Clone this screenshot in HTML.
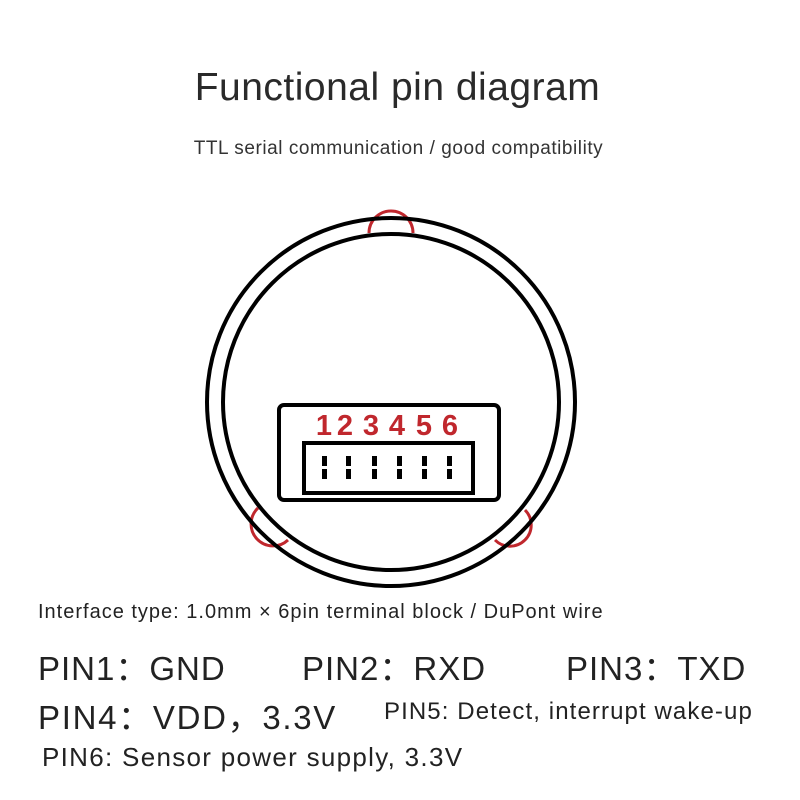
<!DOCTYPE html>
<html><head><meta charset="utf-8"><style>
body{margin:0;width:800px;height:800px;background:#fff;overflow:hidden;position:relative;font-family:"Liberation Sans","Noto Sans CJK SC",sans-serif;color:#222}
.t{position:absolute;white-space:nowrap}
</style></head><body>
<div class="t" style="left:0;width:795px;text-align:center;top:66px;font-size:39px;letter-spacing:0.5px;color:#2a2a2a">Functional pin diagram</div>
<div class="t" style="left:0;width:797px;text-align:center;top:138px;font-size:19px;letter-spacing:0.55px;color:#333">TTL serial communication / good compatibility</div>
<svg width="800" height="800" style="position:absolute;left:0;top:0">
<g fill="none" stroke="#c0272d" stroke-width="3">
<path d="M369,233 A22,22 0 0 1 413,233"/>
<path d="M258,508 A20,20 0 0 0 288,540"/>
<path d="M525,510 A20,20 0 0 1 495,540"/>
</g>
<circle cx="391" cy="402" r="184" fill="none" stroke="#000" stroke-width="4"/>
<circle cx="391" cy="402" r="168" fill="none" stroke="#000" stroke-width="4"/>
<rect x="279" y="405" width="220" height="95" rx="5" fill="#fff" stroke="#000" stroke-width="4"/>
<rect x="304" y="443" width="169" height="50" fill="none" stroke="#000" stroke-width="4"/>
<g fill="#000">
<rect x="322" y="456" width="5" height="10"/><rect x="322" y="469" width="5" height="10"/>
<rect x="346" y="456" width="5" height="10"/><rect x="346" y="469" width="5" height="10"/>
<rect x="372" y="456" width="5" height="10"/><rect x="372" y="469" width="5" height="10"/>
<rect x="397" y="456" width="5" height="10"/><rect x="397" y="469" width="5" height="10"/>
<rect x="422" y="456" width="5" height="10"/><rect x="422" y="469" width="5" height="10"/>
<rect x="447" y="456" width="5" height="10"/><rect x="447" y="469" width="5" height="10"/>
</g>
<g fill="#c0272d" font-family="Liberation Sans" font-weight="bold" font-size="29" text-anchor="middle">
<text x="324" y="435">1</text><text x="345" y="435">2</text><text x="371" y="435">3</text><text x="397" y="435">4</text><text x="424" y="435">5</text><text x="450" y="435">6</text>
</g>
</svg>
<div class="t" style="left:38px;top:601px;font-size:20px;letter-spacing:1px">Interface type: 1.0mm × 6pin terminal block / DuPont wire</div>
<div class="t" style="left:38px;top:642px;font-size:33px;letter-spacing:1px">PIN1：GND</div>
<div class="t" style="left:302px;top:642px;font-size:33px;letter-spacing:1px">PIN2：RXD</div>
<div class="t" style="left:566px;top:642px;font-size:33px;letter-spacing:1px">PIN3：TXD</div>
<div class="t" style="left:38px;top:691px;font-size:33px;letter-spacing:1.7px">PIN4：VDD，3.3V</div>
<div class="t" style="left:384px;top:698px;font-size:24px;letter-spacing:1.1px">PIN5: Detect, interrupt wake-up</div>
<div class="t" style="left:42px;top:742px;font-size:26px;letter-spacing:1.3px">PIN6: Sensor power supply, 3.3V</div>
</body></html>
